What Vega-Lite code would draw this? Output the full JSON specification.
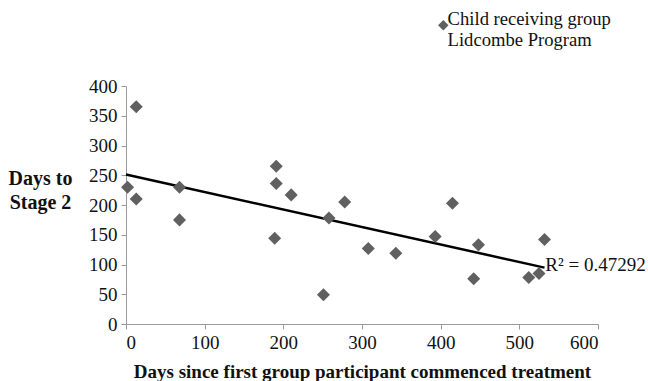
{
  "$schema": "https://vega.github.io/schema/vega-lite/v6.json",
  "autosize": "none",
  "width": 472,
  "height": 238,
  "padding": {"left": 126, "top": 86, "right": 50, "bottom": 57},
  "background": "white",
  "config": {
    "font": "Liberation Serif",
    "view": {"stroke": null},
    "axis": {
      "grid": false,
      "domainColor": "#9a9a9a",
      "tickColor": "#9a9a9a",
      "tickSize": 5,
      "labelFont": "Liberation Serif",
      "labelFontSize": 19,
      "labelColor": "#111111",
      "labelOverlap": false,
      "titleFont": "Liberation Serif",
      "titleFontSize": 19,
      "titleFontWeight": "bold",
      "titleColor": "#111111"
    }
  },
  "datasets": {
    "pts": [
      {"days": 2, "stage2": 230, "series": "Child receiving group Lidcombe Program"},
      {"days": 13, "stage2": 365, "series": "Child receiving group Lidcombe Program"},
      {"days": 13, "stage2": 210, "series": "Child receiving group Lidcombe Program"},
      {"days": 68, "stage2": 230, "series": "Child receiving group Lidcombe Program"},
      {"days": 68, "stage2": 175, "series": "Child receiving group Lidcombe Program"},
      {"days": 191, "stage2": 265, "series": "Child receiving group Lidcombe Program"},
      {"days": 191, "stage2": 236, "series": "Child receiving group Lidcombe Program"},
      {"days": 189, "stage2": 144, "series": "Child receiving group Lidcombe Program"},
      {"days": 210, "stage2": 217, "series": "Child receiving group Lidcombe Program"},
      {"days": 251, "stage2": 49, "series": "Child receiving group Lidcombe Program"},
      {"days": 258, "stage2": 178, "series": "Child receiving group Lidcombe Program"},
      {"days": 278, "stage2": 205, "series": "Child receiving group Lidcombe Program"},
      {"days": 308, "stage2": 127, "series": "Child receiving group Lidcombe Program"},
      {"days": 343, "stage2": 119, "series": "Child receiving group Lidcombe Program"},
      {"days": 393, "stage2": 147, "series": "Child receiving group Lidcombe Program"},
      {"days": 415, "stage2": 203, "series": "Child receiving group Lidcombe Program"},
      {"days": 448, "stage2": 133, "series": "Child receiving group Lidcombe Program"},
      {"days": 442, "stage2": 76, "series": "Child receiving group Lidcombe Program"},
      {"days": 512, "stage2": 78, "series": "Child receiving group Lidcombe Program"},
      {"days": 525, "stage2": 85, "series": "Child receiving group Lidcombe Program"},
      {"days": 532, "stage2": 142, "series": "Child receiving group Lidcombe Program"}
    ],
    "label": [
      {"days": 533, "stage2": 100, "text": "R² = 0.47292"}
    ]
  },
  "encoding": {
    "x": {
      "field": "days", "type": "quantitative",
      "scale": {"domain": [0, 600], "nice": false},
      "axis": {
        "values": [0, 100, 200, 300, 400, 500, 600],
        "labelOverlap": false,
        "title": "Days since first group participant commenced treatment",
        "labelPadding": 4,
        "titleY": 53,
        "titleBaseline": "alphabetic"
      }
    },
    "y": {
      "field": "stage2", "type": "quantitative",
      "scale": {"domain": [0, 400], "nice": false},
      "axis": {
        "values": [0, 50, 100, 150, 200, 250, 300, 350, 400],
        "labelOverlap": false,
        "title": ["Days to", "Stage 2"],
        "titleFontSize": 20,
        "titleAngle": 0,
        "titleAlign": "center",
        "titleBaseline": "middle",
        "titleLineHeight": 24,
        "titleX": -86,
        "titleY": 92,
        "labelPadding": 4
      }
    }
  },
  "layer": [
    {
      "data": {"name": "pts"},
      "transform": [
        {"regression": "stage2", "on": "days", "extent": [0, 532]}
      ],
      "mark": {"type": "line", "color": "#000000", "strokeWidth": 2.5}
    },
    {
      "data": {"name": "pts"},
      "mark": {"type": "point", "shape": "diamond", "filled": true, "size": 170, "opacity": 1},
      "encoding": {
        "color": {
          "field": "series", "type": "nominal",
          "scale": {"range": ["#606060"]},
          "legend": {
            "title": null,
            "orient": "none",
            "legendX": 308,
            "legendY": -70,
            "symbolType": "diamond",
            "symbolSize": 110,
            "labelOffset": -5,
            "labelFont": "Liberation Serif",
            "labelFontSize": 18.6,
            "labelColor": "#111111",
            "labelBaseline": "alphabetic",
            "labelLineHeight": 25,
            "labelLimit": 300,
            "labelExpr": "['Child receiving group', 'Lidcombe Program']"
          }
        }
      }
    },
    {
      "data": {"name": "label"},
      "mark": {"type": "text", "align": "left", "baseline": "middle", "font": "Liberation Serif", "fontSize": 19, "color": "#111111"},
      "encoding": {
        "text": {"field": "text"}
      }
    }
  ]
}
